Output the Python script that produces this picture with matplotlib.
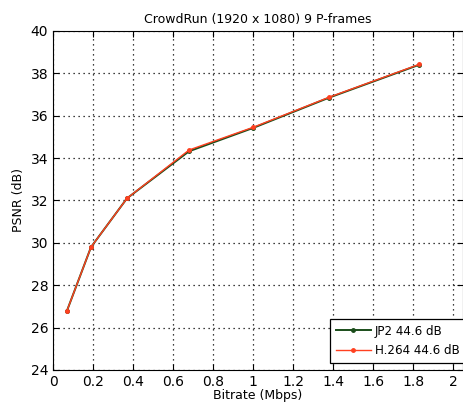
import numpy as np
import matplotlib.pyplot as plt

# Rate-distortion points
bitrate_jp2 = [0.07, 0.19, 0.37, 0.68, 1.00, 1.38, 1.83]
psnr_jp2 = [26.8, 29.8, 32.1, 34.32, 35.42, 36.85, 38.40]
bitrate_h264 = [0.07, 0.19, 0.37, 0.68, 1.00, 1.38, 1.83]
psnr_h264 = [26.8, 29.8, 32.1, 34.38, 35.45, 36.87, 38.42]
labels = ['JP2 44.6 dB', 'H.264 44.6 dB']

fig = plt.figure(figsize=(4.63, 4.07), dpi=100)
ax = fig.add_axes([0.1145, 0.091, 0.8855, 0.833])

ax.plot(bitrate_jp2, psnr_jp2, color='#1a4d1a', marker='.', markersize=5,
        linewidth=1.4, label=labels[0])
ax.plot(bitrate_h264, psnr_h264, color='#ff4020', marker='.', markersize=5,
        linewidth=1.0, label=labels[1])

ax.set_xlim(0, 2.05)
ax.set_ylim(24, 40)
ax.set_xticks(np.arange(0, 2.01, 0.2))
ax.set_xticklabels(['0', '0.2', '0.4', '0.6', '0.8', '1', '1.2', '1.4', '1.6', '1.8', '2'])
ax.set_yticks(np.arange(24, 41, 2))
ax.tick_params(direction='in', top=True, right=True, length=4, labelsize=10)
ax.grid(True, color='black', linestyle=(0, (1, 3)), linewidth=0.9)

ax.set_title('CrowdRun (1920 x 1080) 9 P-frames', fontsize=9, pad=6)
ax.set_xlabel('Bitrate (Mbps)', fontsize=9, labelpad=0)
ax.set_ylabel('PSNR (dB)', fontsize=9)

leg = ax.legend(loc='lower left', bbox_to_anchor=(0.676, 0.022), fontsize=8.6,
                fancybox=False, framealpha=1, edgecolor='black',
                borderaxespad=0, handlelength=3.0, handletextpad=0.3,
                borderpad=0.45, labelspacing=0.55)
leg.get_frame().set_linewidth(0.9)

fig.savefig('out.png', dpi=100)
